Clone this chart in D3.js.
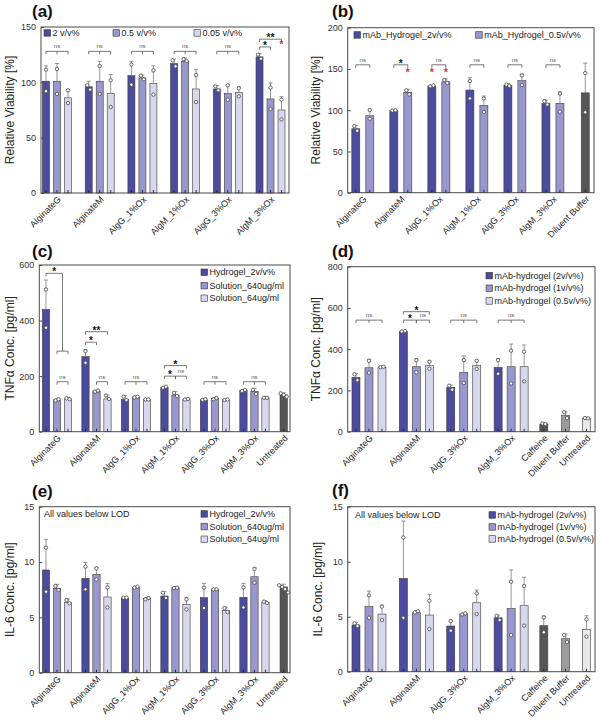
<!DOCTYPE html>
<html><head><meta charset="utf-8">
<script src="https://cdn.jsdelivr.net/npm/d3@7"></script>
<style>body{margin:0;background:#fff}svg{display:block}text{font-family:"Liberation Sans",Arial,sans-serif}</style>
</head><body>
<script>
// ---------- DATA ----------
const groups6 = ["AlginateG","AlginateM","AlgG_1%Ox","AlgM_1%Ox","AlgG_3%Ox","AlgM_3%Ox"];
const groups4 = ["AlginateG","AlginateM","AlgG_3%Ox","AlgM_3%Ox"];

// (a)
const seriesA = ["2 v/v%","0.5 v/v%","0.05 v/v%"];
const meanA = [[101,101,86],[96,101,90],[106,104,99],[117,119,94],[94,90,91],[123,85,75]];
const sdA = [[14,16,7.5],[5,18,17],[13,2.5,16],[4,3,17.5],[3,8,5],[3,14.5,12]];
const ptsA = [[[111.5,92],[112,89.5],[92.8,81.3]],[[97.3,93.4],[114.8,89.5],[101.8,77.7]],[[116,97.9],[106,102.7],[110.8,88.9]],[[119.9,114.5],[121,119.3],[106.6,82.2]],[[96.4,92.8],[97.3,84.3],[94.6,87.3]],[[125,121.4],[95.2,75.9],[84.3,66.6]]];
const yTicksA = [0,50,100,150];
const bracketsA = [{g:0,a:0,b:2,v:128,t:"ns",mid:true},{g:1,a:0,b:2,v:128,t:"ns",mid:true},{g:2,a:0,b:2,v:128,t:"ns",mid:true},{g:3,a:0,b:2,v:128,t:"ns",mid:true},{g:4,a:0,b:2,v:128,t:"ns",mid:true},{g:5,a:0,b:2,v:139,t:"**"},{g:5,a:0,b:1,v:132,t:"*"}];
const redA = [{g:5,s:2,v:133}];

// (b)
const seriesB = ["mAb_Hydrogel_2v/v%","mAb_Hydrogel_0.5v/v%"];
const meanB = [[77.5,93.3],[99.5,121.6],[129.3,134.5],[124.4,105.9],[130,135.8],[107.9,108.3]];
const sdB = [[4,8],[1,3.7],[1,3.5],[15,11.3],[2.5,8],[4.4,14]];
const ptsB = [[[80.8,75.2],[100.2,89.7]],[[99.5,100],[124,119.2]],[[129,130],[136.6,132.9]],[[135.4,114.3],[114.3,97.8]],[[130.9,129.3],[142.2,130.5]],[[111,106.7],[120,98.2]]];
const ctrlNamesB = ["Diluent Buffer"];
const ctrlMeanB = [121];
const ctrlSdB = [36];
const ctrlPtsB = [[145,97.5]];
const yTicksB = [0,50,100,150,200];
const bracketsB = [{g:0,a:0,b:1,v:155,t:"ns"},{g:1,a:0,b:1,v:155,t:"*"},{g:2,a:0,b:1,v:155,t:"ns"},{g:3,a:0,b:1,v:155,t:"ns"},{g:4,a:0,b:1,v:155,t:"ns"},{g:5,a:0,b:1,v:155,t:"ns"}];
const redB = [{g:1,s:1,v:145},{g:2,s:0,v:145},{g:2,s:1,v:145}];

// (c)
const seriesC = ["Hydrogel_2v/v%","Solution_640ug/ml","Solution_64ug/ml"];
const meanC = [[440,114,118],[270,146,118],[116,125,116],[160,132,116],[115,119,115],[148,145,122]];
const sdC = [[106,4,6],[26,4,14],[14,3,2],[3,12,3],[3,3,2],[3,11,3]];
const ptsC = [[[512,374],[112,117],[120,117]],[[290,248],[144,148],[130,118]],[[126,114],[123,126],[116,116]],[[158,162],[140,128],[116,118]],[[114,117],[117,121],[114,116]],[[146,150],[151,136],[122,122]]];
const ctrlNamesC = ["Untreated"];
const ctrlMeanC = [132];
const ctrlSdC = [8];
const ctrlPtsC = [[138,132,126]];
const yTicksC = [0,200,400,600];
const bracketsC = [{g:0,a:0,b:1.5,v:570,t:"*",legTo:290},{g:0,a:1,b:2,v:290,t:""},{g:0,a:1,b:2,v:180,t:"ns"},
  {g:1,a:0,b:2,v:360,t:"**"},{g:1,a:0,b:1,v:322,t:"*"},{g:1,a:1,b:2,v:180,t:"ns"},
  {g:2,a:0,b:2,v:180,t:"ns",mid:true},
  {g:3,a:0,b:2,v:238,t:"*"},{g:3,a:0,b:1,v:200,t:"*"},{g:3,a:1,b:2,v:200,t:"ns"},
  {g:4,a:0,b:2,v:180,t:"ns",mid:true},{g:5,a:0,b:2,v:180,t:"ns",mid:true}];

// (d)
const seriesD = ["mAb-hydrogel (2v/v%)","mAb-hydrogel (1v/v%)","mAb-hydrogel (0.5v/v%)"];
const meanD = [[263,310,313],[486,315,320],[215,288,321],[312,315,315]];
const sdD = [[20,41,4],[3,39,24],[11,79,26],[43,110,105]];
const ptsD = [[[278,250],[344,286],[313,315]],[[486,488],[347,288],[339,305]],[[223,204],[347,236],[344,304]],[[347,281],[393,234],[388,244]]];
const ctrlNamesD = ["Caffeine","Diluent Buffer","Untreated"];
const ctrlMeanD = [37,80,65];
const ctrlSdD = [3,16,2];
const ctrlPtsD = [[40,37],[95,66],[66,65]];
const yTicksD = [0,200,400,600,800];
const bracketsD = [{g:0,a:0,b:2,v:541,t:"ns",mid:true},{g:1,a:0,b:2,v:582,t:"*"},{g:1,a:0,b:1,v:541,t:"*"},{g:1,a:1,b:2,v:541,t:"ns"},{g:2,a:0,b:2,v:541,t:"ns",mid:true},{g:3,a:0,b:2,v:541,t:"ns",mid:true}];

// (e)
const meanE = [[9.28,7.62,6.36],[8.52,8.89,6.84],[6.75,7.71,6.69],[6.93,7.68,6.17],[6.78,7.56,5.63],[6.81,8.67,6.33]];
const sdE = [[2.77,0.36,0.3],[1.45,0.63,1.23],[0.05,0.12,0.11],[0.39,0.09,0.64],[1.29,0.03,0.3],[1.26,0.85,0.17]];
const ptsE = [[[11.3,7.32],[7.83,7.47],[6.57,6.27]],[[9.58,7.53],[9.43,8.43],[7.71,5.9]],[[6.78,6.78],[7.68,7.77],[6.63,6.75]],[[7.23,6.75],[7.65,7.68],[6.63,5.72]],[[7.68,5.84],[7.53,7.53],[5.84,5.48]],[[7.71,5.9],[9.37,8.13],[6.42,6.3]]];
const ctrlMeanE = [7.75];
const ctrlSdE = [0.25];
const ctrlPtsE = [[7.9,7.75,7.55,7.25]];
const yTicksE = [0,5,10,15];

// (f)
const meanF = [[4.24,5.91,5.24],[8.48,5.36,5.15],[4.15,5.24,6.27],[4.9,5.73,6.0]];
const sdF = [[0.24,1.42,0.82],[5.22,0.19,1.88],[0.55,0.1,1.15],[0.25,3.51,2.58]];
const ptsF = [[[4.39,4.15],[6.94,4.9],[5.91,4.7]],[[12.2,4.9],[5.39,5.5],[6.45,3.88]],[[4.6,3.73],[5.2,5.3],[7.12,5.24]],[[5.09,4.7],[8.18,3.33],[7.79,4.18]]];
const ctrlMeanF = [4.18,3.0,3.85];
const ctrlSdF = [0.88,0.42,1.24];
const ctrlPtsF = [[4.94,3.58],[3.33,2.7],[4.76,3.18]];
const yTicksF = [0,5,10,15];

const noteText = "All values below LOD";

// ---------- STYLE ----------
const seriesColors = ["#4c4c9e","#9898cf","#d7d7ed"];
const darkGray = "#565656", midGray = "#9c9c9c", lightGray = "#e8e8e8";

const svg = d3.select("body").append("svg").attr("width",600).attr("height",721);

function drawPanel(p) {
  const g = svg.append("g");
  const x = d3.scaleLinear().domain(p.xDomain).range([p.x0, p.x1]);
  const y = d3.scaleLinear().domain([0, p.yMax]).range([p.y1, p.y0]);
  const nS = p.series.length;
  const pos = (gi, s) => x(gi) + (s - (nS - 1) / 2) * p.spacing;
  const bars = [];
  p.mean.forEach((row, gi) => row.forEach((m, si) => bars.push({cx: pos(gi, si), m, sd: p.sd[gi][si], pts: p.pts[gi][si], fill: seriesColors[si]})));
  (p.ctrlNames || []).forEach((n, ci) => bars.push({cx: x(p.ctrlPos[ci]), m: p.ctrlMean[ci], sd: p.ctrlSd[ci], pts: p.ctrlPts[ci], fill: p.ctrlColors[ci]}));

  g.selectAll(".bar").data(bars).join("rect")
    .attr("x", d => d.cx - p.bw / 2).attr("y", d => y(d.m))
    .attr("width", p.bw).attr("height", d => y(0) - y(d.m))
    .attr("fill", d => d.fill).attr("stroke", "#3a3a3a").attr("stroke-width", 0.6);
  g.selectAll(".err").data(bars).join("line")
    .attr("x1", d => d.cx).attr("x2", d => d.cx).attr("y1", d => y(d.m)).attr("y2", d => y(d.m + d.sd))
    .attr("stroke", "#7a7a7a").attr("stroke-width", 0.8);
  g.selectAll(".cap").data(bars).join("line")
    .attr("x1", d => d.cx - 2).attr("x2", d => d.cx + 2).attr("y1", d => y(d.m + d.sd)).attr("y2", d => y(d.m + d.sd))
    .attr("stroke", "#7a7a7a").attr("stroke-width", 0.8);
  g.selectAll(".bt").data(bars).join("line")
    .attr("x1", d => d.cx).attr("x2", d => d.cx).attr("y1", y(0)).attr("y2", y(0) - 3)
    .attr("stroke", "#222").attr("stroke-width", 0.9);
  const pts = [];
  bars.forEach(b => {
    const ys = b.pts.map(v => y(v));
    const span = d3.max(ys) - d3.min(ys);
    const spread = span < 3.5 * b.pts.length;
    b.pts.forEach((v, i) => pts.push({x: b.cx + (spread ? (i - (b.pts.length - 1) / 2) * 3 : 0), y: y(v)}));
  });
  g.selectAll(".pt").data(pts).join("circle")
    .attr("cx", d => d.x).attr("cy", d => d.y).attr("r", 1.7)
    .attr("fill", "#fff").attr("stroke", "#444").attr("stroke-width", 0.8);

  g.append("rect").attr("x", p.x0).attr("y", p.y0).attr("width", p.x1 - p.x0).attr("height", p.y1 - p.y0)
    .attr("fill", "none").attr("stroke", "#4a4a4a").attr("stroke-width", 1);

  const ya = g.append("g").attr("transform", `translate(${p.x0},0)`)
    .call(d3.axisLeft(y).tickValues(p.yTicks).tickSizeInner(-3).tickSizeOuter(0).tickPadding(5));
  ya.select(".domain").remove();
  ya.selectAll("line").attr("stroke", "#4a4a4a");
  ya.selectAll("text").attr("font-size", 9).attr("fill", "#333").attr("font-family", "Liberation Sans, Arial, sans-serif");

  const labelPos = p.groups.map((d, i) => i).concat(p.ctrlPos || []);
  const labels = p.groups.concat(p.ctrlNames || []);
  const xa = g.append("g").attr("transform", `translate(0,${p.y1})`)
    .call(d3.axisBottom(x).tickValues(labelPos).tickSize(0).tickFormat((d, i) => labels[i]));
  xa.select(".domain").remove();
  xa.selectAll("text").attr("font-size", 9).attr("fill", "#222").attr("font-family", "Liberation Sans, Arial, sans-serif")
    .attr("text-anchor", "end").attr("dy", null).attr("y", 0)
    .attr("transform", "translate(4,7) rotate(-45)");

  g.append("text").attr("transform", `translate(${p.titleX},${(p.y0 + p.y1) / 2}) rotate(-90)`)
    .attr("text-anchor", "middle").attr("dominant-baseline", "central")
    .attr("font-size", 12).attr("fill", "#222").text(p.yTitle);

  g.append("text").attr("x", p.letterX).attr("y", p.letterY).attr("font-size", 17).attr("font-weight", "bold")
    .attr("fill", "#111").text(p.letter);

  (p.brackets || []).forEach(b => {
    const xa_ = pos(b.g, b.a), xb = pos(b.g, b.b), yy = y(b.v);
    const bg = g.append("g").attr("stroke", "#555").attr("stroke-width", 0.8).attr("fill", "none");
    bg.append("line").attr("x1", xa_).attr("x2", xb).attr("y1", yy).attr("y2", yy);
    bg.append("line").attr("x1", xa_).attr("x2", xa_).attr("y1", yy).attr("y2", yy + 3);
    bg.append("line").attr("x1", xb).attr("x2", xb).attr("y1", yy).attr("y2", b.legTo !== undefined ? y(b.legTo) : yy + 3);
    if (b.mid) { const xm = (xa_ + xb) / 2; bg.append("line").attr("x1", xm).attr("x2", xm).attr("y1", yy).attr("y2", yy + 3); }
    if (b.t === "ns") {
      g.append("text").attr("x", (xa_ + xb) / 2).attr("y", yy - 3).attr("text-anchor", "middle")
        .attr("font-size", 6).attr("fill", "#555").text("ns");
    } else if (b.t) {
      g.append("text").attr("x", (xa_ + xb) / 2).attr("y", yy + 2).attr("text-anchor", "middle")
        .attr("font-size", 10).attr("font-weight", "bold").attr("fill", "#111").text(b.t);
    }
  });
  (p.red || []).forEach(r => {
    g.append("text").attr("x", pos(r.g, r.s)).attr("y", y(r.v) + 2.5).attr("text-anchor", "middle")
      .attr("font-size", 10).attr("font-weight", "bold").attr("fill", "#e8262b").text("*");
  });

  p.series.forEach((s, i) => {
    const lx = p.legend.x[i] !== undefined ? p.legend.x[i] : p.legend.x[0];
    const ly = p.legend.y[i] !== undefined ? p.legend.y[i] : p.legend.y[0];
    g.append("rect").attr("x", lx).attr("y", ly - 3.3).attr("width", 6.5).attr("height", 6.5)
      .attr("fill", seriesColors[i]).attr("stroke", "#333").attr("stroke-width", 0.6);
    g.append("text").attr("x", lx + 8.5).attr("y", ly).attr("dominant-baseline", "central")
      .attr("font-size", 9).attr("fill", "#222").text(s);
  });
  if (p.note) {
    g.append("text").attr("x", p.note.x).attr("y", p.note.y).attr("dominant-baseline", "central")
      .attr("font-size", 9).attr("fill", "#222").text(p.note.t);
  }
}

drawPanel({letter:"(a)", letterX:32, letterY:17, x0:41, x1:289, y0:27, y1:193, yMax:150, yTicks:yTicksA,
  xDomain:[-0.375,5.433], spacing:11, bw:7, groups:groups6, series:seriesA, mean:meanA, sd:sdA, pts:ptsA,
  yTitle:"Relative Viability [%]", titleX:10, brackets:bracketsA, red:redA,
  legend:{x:[44,113,194], y:[33]}});
drawPanel({letter:"(b)", letterX:332, letterY:17, x0:347.7, x1:594, y0:27.7, y1:192.7, yMax:200, yTicks:yTicksB,
  xDomain:[-0.397,6.08], spacing:14, bw:8, groups:groups6, series:seriesB, mean:meanB, sd:sdB, pts:ptsB,
  ctrlNames:ctrlNamesB, ctrlPos:[5.85], ctrlMean:ctrlMeanB, ctrlSd:ctrlSdB, ctrlPts:ctrlPtsB, ctrlColors:[darkGray],
  yTitle:"Relative Viability [%]", titleX:316, brackets:bracketsB, red:redB,
  legend:{x:[354,475.7], y:[35]}});
drawPanel({letter:"(c)", letterX:32, letterY:257, x0:39.3, x1:290, y0:265, y1:431.7, yMax:600, yTicks:yTicksC,
  xDomain:[-0.448,5.9], spacing:11, bw:7.3, groups:groups6, series:seriesC, mean:meanC, sd:sdC, pts:ptsC,
  ctrlNames:ctrlNamesC, ctrlPos:[5.74], ctrlMean:ctrlMeanC, ctrlSd:ctrlSdC, ctrlPts:ctrlPtsC, ctrlColors:[darkGray],
  yTitle:"TNFα Conc. [pg/ml]", titleX:10, brackets:bracketsC,
  legend:{x:[201], y:[272.3,285.7,298.3]}});
drawPanel({letter:"(d)", letterX:332, letterY:257, x0:347.7, x1:595, y0:266.7, y1:431.7, yMax:800, yTicks:yTicksD,
  xDomain:[-0.449,4.77], spacing:13, bw:8, groups:groups4, series:seriesD, mean:meanD, sd:sdD, pts:ptsD,
  ctrlNames:ctrlNamesD, ctrlPos:[3.69,4.15,4.59], ctrlMean:ctrlMeanD, ctrlSd:ctrlSdD, ctrlPts:ctrlPtsD, ctrlColors:[darkGray,midGray,lightGray],
  yTitle:"TNFα Conc. [pg/ml]", titleX:316, brackets:bracketsD,
  legend:{x:[486], y:[275.7,288.3,301]}});
drawPanel({letter:"(e)", letterX:32, letterY:497, x0:39.3, x1:290, y0:506.7, y1:672.7, yMax:15, yTicks:yTicksE,
  xDomain:[-0.448,5.9], spacing:11, bw:7.3, groups:groups6, series:seriesC, mean:meanE, sd:sdE, pts:ptsE,
  ctrlNames:ctrlNamesC, ctrlPos:[5.74], ctrlMean:ctrlMeanE, ctrlSd:ctrlSdE, ctrlPts:ctrlPtsE, ctrlColors:[darkGray],
  yTitle:"IL-6 Conc. [pg/ml]", titleX:10,
  legend:{x:[201], y:[514,526.7,539.3]}, note:{x:44, y:514, t:noteText}});
drawPanel({letter:"(f)", letterX:332, letterY:496, x0:347.7, x1:595, y0:506.7, y1:671.7, yMax:15, yTicks:yTicksF,
  xDomain:[-0.449,4.77], spacing:13, bw:8, groups:groups4, series:seriesD, mean:meanF, sd:sdF, pts:ptsF,
  ctrlNames:ctrlNamesD, ctrlPos:[3.69,4.15,4.59], ctrlMean:ctrlMeanF, ctrlSd:ctrlSdF, ctrlPts:ctrlPtsF, ctrlColors:[darkGray,midGray,lightGray],
  yTitle:"IL-6 Conc. [pg/ml]", titleX:318,
  legend:{x:[489], y:[515,527,539]}, note:{x:355, y:515, t:noteText}});
</script>
</body></html>
